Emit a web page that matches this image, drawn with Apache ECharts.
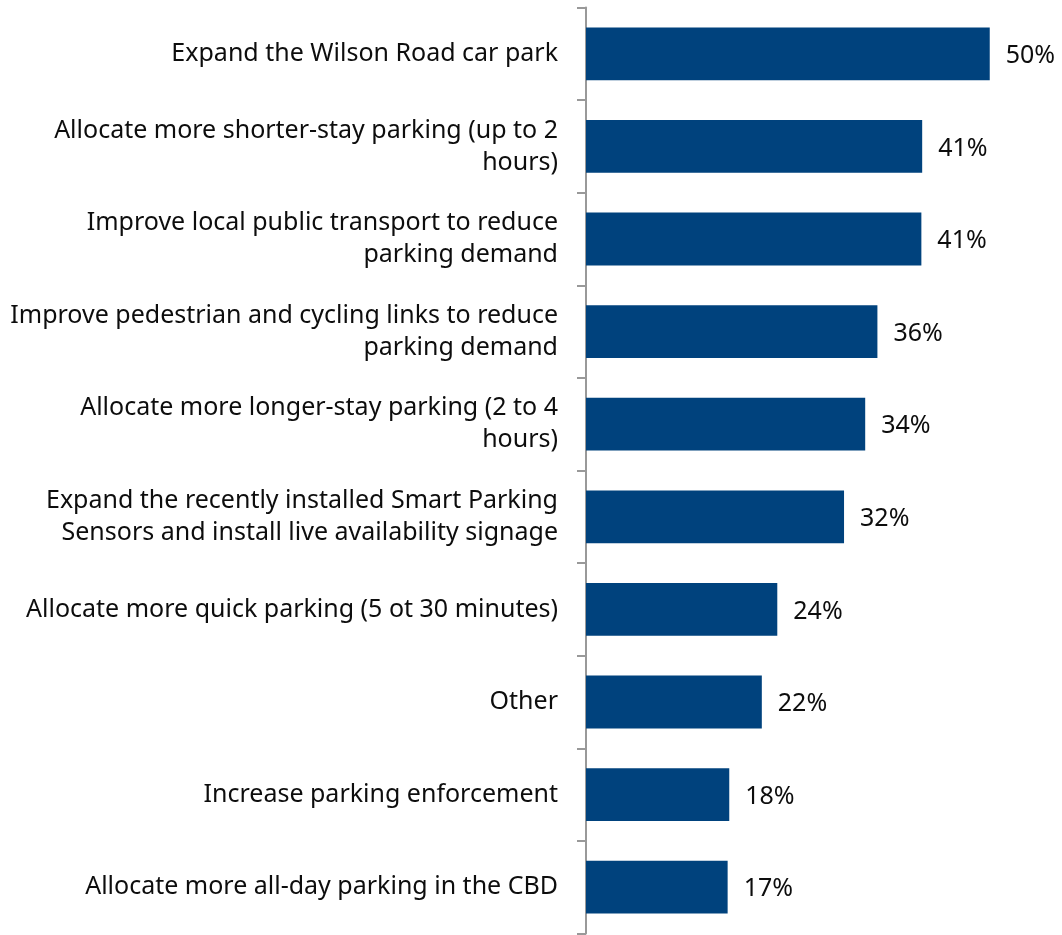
<!doctype html>
<html lang="en">
<head>
    <meta charset="utf-8">
    <title>Parking options</title>
    <script src="https://cdn.jsdelivr.net/npm/echarts@6/dist/echarts.min.js"></script>
    <style>
        html, body { margin: 0; padding: 0; background: #fff; }
        #main { width: 1062px; height: 935px; }
    </style>
</head>
<body>
    <div id="main"></div>
    <script type="text/javascript">
        // options, top to bottom as shown
        var categories = [
            'Expand the Wilson Road car park',
            'Allocate more shorter-stay parking (up to 2\nhours)',
            'Improve local public transport to reduce\nparking demand',
            'Improve pedestrian and cycling links to reduce\nparking demand',
            'Allocate more longer-stay parking (2 to 4\nhours)',
            'Expand the recently installed Smart Parking\nSensors and install live availability signage',
            'Allocate more quick parking (5 ot 30 minutes)',
            'Other',
            'Increase parking enforcement',
            'Allocate more all-day parking in the CBD'
        ];
        // percent of respondents
        var percents = [49.6, 41.3, 41.2, 35.8, 34.3, 31.7, 23.5, 21.6, 17.6, 17.4];

        var font = '"Noto Sans", "Open Sans", sans-serif';
        var myChart = echarts.init(document.getElementById('main'));

        var option = {
            animation: false,
            grid: { left: 586, right: 69, top: 7.5, bottom: 1.5, containLabel: false },
            xAxis: {
                type: 'value',
                min: 0,
                max: 50,
                show: false
            },
            yAxis: {
                type: 'category',
                inverse: true,
                data: categories,
                axisLine: { show: true, lineStyle: { color: '#999', width: 2 } },
                axisTick: { show: true, length: 9, alignWithLabel: false, lineStyle: { color: '#999', width: 2 } },
                axisLabel: {
                    margin: 28,
                    color: '#0d0d0d',
                    fontFamily: font,
                    fontSize: 25,
                    lineHeight: 32,
                    padding: [5, 0, 0, 0],
                    align: 'right'
                }
            },
            series: [{
                type: 'bar',
                data: percents,
                barCategoryGap: '43%',
                itemStyle: { color: '#00427D' },
                label: {
                    show: true,
                    position: 'right',
                    distance: 16,
                    offset: [0, 2],
                    color: '#0d0d0d',
                    fontFamily: font,
                    fontSize: 25,
                    formatter: function (p) { return Math.round(p.value) + '%'; }
                }
            }]
        };

        myChart.setOption(option);
    </script>
</body>
</html>
